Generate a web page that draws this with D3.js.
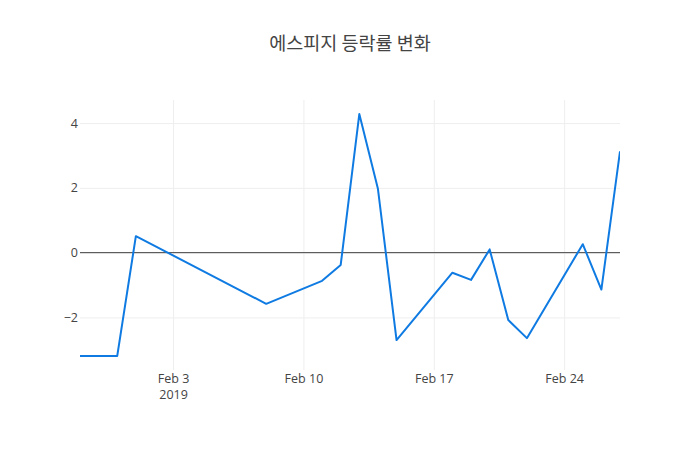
<!DOCTYPE html>
<html><head><meta charset="utf-8">
<script src="https://cdn.jsdelivr.net/npm/d3@7"></script>
<style>body{margin:0;background:#fff}</style>
</head><body>
<svg id="c" width="700" height="450"></svg>
<script>
const dates = ["2019-01-29","2019-01-30","2019-01-31","2019-02-01","2019-02-08","2019-02-11","2019-02-12","2019-02-13","2019-02-14","2019-02-15","2019-02-18","2019-02-19","2019-02-20","2019-02-21","2019-02-22","2019-02-25","2019-02-26","2019-02-27"];
const values = [-3.19,-3.19,-3.19,0.51,-1.58,-0.87,-0.38,4.28,1.97,-2.70,-0.62,-0.84,0.10,-2.08,-2.64,0.26,-1.14,3.13];
const yTicks = [-2,0,2,4];
const xTicks = ["2019-02-03","2019-02-10","2019-02-17","2019-02-24"];
const title = "에스피지 등락률 변화";

const svg = d3.select("#c");
const m = {l:80, r:80, t:100, b:80}, W = 700, H = 450;
const parse = d3.utcParse("%Y-%m-%d");
const data = dates.map((d,i)=>({d:parse(d), v:values[i]}));
const x = d3.scaleUtc().domain(d3.extent(data, d=>d.d)).range([m.l, W-m.r]);
const ext = d3.extent(values), pad = (ext[1]-ext[0])*0.058;
const y = d3.scaleLinear().domain([ext[0]-pad, ext[1]+pad]).range([H-m.b, m.t]);
const font = "'Open Sans', sans-serif";

// grid
const gx = svg.append("g").attr("transform",`translate(0,${H-m.b})`)
  .call(d3.axisBottom(x).tickValues(xTicks.map(parse)).tickSize(-(H-m.t-m.b)).tickFormat(""));
gx.select(".domain").remove();
gx.selectAll("line").attr("stroke","#eee");
const gy = svg.append("g").attr("transform",`translate(${m.l},0)`)
  .call(d3.axisLeft(y).tickValues(yTicks).tickSize(-(W-m.l-m.r)).tickFormat(""));
gy.select(".domain").remove();
gy.selectAll("line").attr("stroke","#eee");

// zero line
svg.append("line").attr("x1",m.l).attr("x2",W-m.r).attr("y1",y(0)).attr("y2",y(0))
  .attr("stroke","#444").attr("stroke-width",1);

// tick labels
const ax = svg.append("g").attr("transform",`translate(0,${H-m.b})`)
  .call(d3.axisBottom(x).tickValues(xTicks.map(parse)).tickSize(0).tickPadding(4)
    .tickFormat(d=>d3.utcFormat("%b %-d")(d)));
ax.select(".domain").remove();
ax.selectAll("text").attr("fill","#444").style("font-family",font).style("font-size","12.5px");
ax.selectAll(".tick").filter((d,i)=>i===0).append("text")
  .attr("y",20).attr("dy","0.71em").attr("fill","#444").attr("text-anchor","middle")
  .style("font-family",font).style("font-size","12.5px").text("2019");

const ay = svg.append("g").attr("transform",`translate(${m.l},0)`)
  .call(d3.axisLeft(y).tickValues(yTicks).tickSize(0).tickPadding(2)
    .tickFormat(d=>d<0?"\u2212"+Math.abs(d):String(d)));
ay.select(".domain").remove();
ay.selectAll("text").attr("fill","#444").style("font-family",font).style("font-size","12.5px");

// line
svg.append("defs").append("clipPath").attr("id","clip").append("rect")
  .attr("x",m.l).attr("y",m.t).attr("width",W-m.l-m.r).attr("height",H-m.t-m.b);
svg.append("path").datum(data).attr("clip-path","url(#clip)")
  .attr("fill","none").attr("stroke","#0f7be2").attr("stroke-width",2)
  .attr("stroke-linejoin","round")
  .attr("d", d3.line().x(d=>x(d.d)).y(d=>y(d.v)));

// title
svg.append("text").attr("x",W/2).attr("y",50).attr("text-anchor","middle")
  .attr("fill","#444").style("font-family","'Noto Sans CJK KR', 'Open Sans', sans-serif")
  .style("font-size","18.5px").text(title);
</script>
</body></html>
